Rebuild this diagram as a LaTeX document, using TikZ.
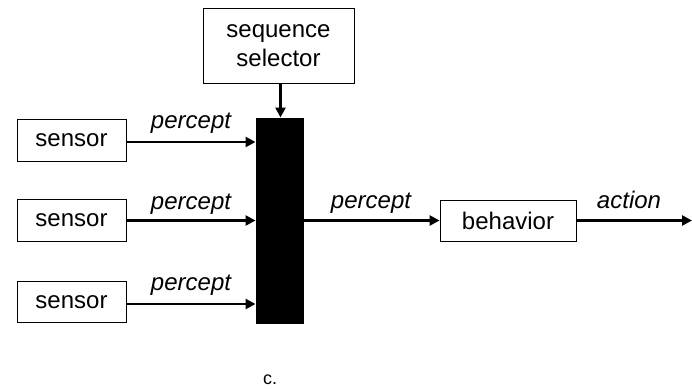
\documentclass[tikz,border=0pt]{standalone}
\usepackage{fontspec}
\setmainfont{Liberation Sans}
\usetikzlibrary{arrows.meta}
\begin{document}
\begin{tikzpicture}[x=1pt,y=-1pt,
  box/.style={draw, line width=0.9pt, inner sep=0pt, align=center,
    font=\fontsize{24}{29}\selectfont},
  conn/.style={line width=2.5pt, -{Triangle[length=10pt,width=10pt]}},
  lab/.style={font=\fontsize{24}{28}\selectfont\itshape, inner sep=0pt, anchor=base}]
\useasboundingbox (0,0) rectangle (692,388);
\node[box, minimum width=109pt, minimum height=42pt] (s1) at (71.5,140) {sensor};
\node[box, minimum width=109pt, minimum height=42pt] (s2) at (71.5,220.5) {sensor};
\node[box, minimum width=109pt, minimum height=41pt] (s3) at (71.5,302) {sensor};
\node[draw, fill=black, line width=1pt, inner sep=0pt, minimum width=47pt, minimum height=205pt] (bar) at (279.5,220.5) {};
\node[box, minimum width=151pt, minimum height=75pt] (sel) at (278.5,45.5) {sequence\\selector};
\node[box, minimum width=136pt, minimum height=41pt] (beh) at (508,220.5) {behavior};
\coordinate (out) at (692,220.5);
\draw[conn] ([yshift=-2pt]s1.east) -- ([yshift=-2pt]s1.east -| bar.west);
\draw[conn] (s2.east) -- (s2.east -| bar.west);
\draw[conn] ([yshift=-2pt]s3.east) -- ([yshift=-2pt]s3.east -| bar.west);
\draw[conn] ([xshift=2pt]sel.south) -- ([xshift=2pt]sel.south |- bar.north);
\draw[conn] (bar.east |- beh.west) -- (beh.west);
\draw[conn] (beh.east) -- (out);
\node[lab] (l1) at (191,128) {percept};
\node[lab] (l2) at (191,209) {percept};
\node[lab] (l3) at (191,290) {percept};
\node[lab] (l4) at (371,208) {percept};
\node[lab] (l5) at (629,208) {action};
\node[font=\fontsize{18}{20}\selectfont, inner sep=0pt, anchor=base] (c) at (270,384) {c.};
\end{tikzpicture}
\end{document}
